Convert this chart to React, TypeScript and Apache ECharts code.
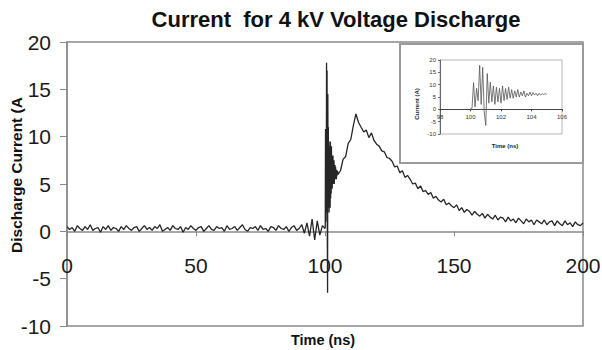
import React, { useEffect, useRef } from "react";
import * as echarts from "echarts";

// ---- data ----
const TITLE = "Current  for 4 kV Voltage Discharge";
const Y_NAME = "Discharge Current (A";
const X_NAME = "Time (ns)";
const INSET_Y_NAME = "Current (A)";
const INSET_X_NAME = "Time (ns)";

// 0..99 ns, 1 ns step
const BASE_START = 0;
const BASE_STEP = 1;
const baselineValues = [
  0.5, 0.2, 0.4, 0.0, 0.6, 0.3, 0.1, 0.5, 0.2, 0.7,
  0.1, 0.3, 0.4, -0.1, 0.5, 0.2, 0.6, 0.1, 0.4, 0.3,
  0.0, 0.5, 0.2, 0.6, 0.3, 0.1, 0.4, 0.5, 0.0, 0.3,
  0.6, 0.2, 0.4, 0.1, 0.5, 0.3, 0.7, 0.0, 0.2, 0.4,
  0.1, 0.6, 0.3, 0.2, 0.5, -0.1, 0.4, 0.2, 0.6, 0.3,
  0.1, 0.4, 0.5, 0.0, 0.3, 0.6, 0.2, 0.1, 0.5, 0.3,
  0.4, 0.0, 0.6, 0.2, 0.3, 0.5, 0.1, 0.4, 0.7, 0.2,
  0.0, 0.4, 0.3, 0.5, 0.1, 0.6, 0.2, 0.3, 0.0, 0.5,
  0.4, 0.1, 0.6, 0.3, 0.2, 0.5, 0.0, 0.4, 0.6, 0.1,
  0.3, 0.7, -0.2, 0.9, -0.5, 1.3, -0.9, 1.1, -0.4, 0.6,
];

// 100..105 ns, 0.1 ns step (the burst, also shown in the inset)
const BURST_START = 100;
const BURST_STEP = 0.1;
const burstValues = [
  0.3, 0.5, 10.8, 1.0, 8.5, 3.5, 17.8, 2.0, 17.0, -1.0,
  -6.5, 14.5, 2.5, 11.0, 3.0, 9.5, 2.0, 9.0, 3.0, 8.5,
  2.5, 9.5, 3.5, 8.5, 4.0, 9.0, 4.5, 8.0, 4.5, 7.5,
  5.0, 8.0, 5.0, 7.0, 5.5, 7.5, 5.0, 6.5, 5.5, 7.0,
  5.5, 6.8, 5.8, 6.5, 5.5, 6.5, 5.8, 6.3, 6.0, 6.4,
  6.0,
];

// 106..200 ns, 1 ns step
const DECAY_START = 106;
const DECAY_STEP = 1;
const decayValues = [
  6.4, 7.6, 7.9, 9.3, 9.7, 11.2, 12.4, 11.5, 11.0, 10.5,
  10.7, 9.9, 10.4, 9.6, 9.2, 9.0, 8.5, 8.4, 7.8, 7.7,
  7.4, 6.8, 6.9, 6.2, 6.4, 5.7, 5.9, 5.5, 5.0, 5.1,
  4.5, 4.8, 4.2, 4.3, 3.9, 4.1, 3.5, 3.7, 3.3, 3.1,
  3.4, 2.8, 3.0, 2.7, 2.5, 2.8, 2.2, 2.5, 2.0, 2.3,
  2.1, 1.7, 2.1, 1.8, 1.6, 1.9, 1.4, 1.8, 1.5, 1.3,
  1.7, 1.2, 1.5, 1.4, 1.0, 1.5, 1.1, 1.3, 0.9, 1.4,
  1.1, 0.8, 1.3, 1.0, 1.2, 0.7, 1.2, 1.0, 0.8, 1.2,
  0.7, 1.0, 1.1, 0.6, 1.1, 0.8, 0.6, 1.1, 0.7, 0.9,
  0.5, 1.0, 0.7, 0.6, 0.9,
];

// axes
const X_MIN = 0, X_MAX = 200, X_STEP = 50;
const Y_MIN = -10, Y_MAX = 20, Y_STEP = 5;
const IX_MIN = 98, IX_MAX = 106, IX_STEP = 2;
const IY_MIN = -10, IY_MAX = 20, IY_STEP = 5;

const FONT = "'Liberation Sans', Arial, sans-serif";

// layout (pixels)
const MAIN = { left: 67, top: 42, width: 516, height: 284 };
const INSET = { left: 440, top: 60, width: 122, height: 74 };

function toPairs(values: number[], start: number, step: number): number[][] {
  return values.map((v, i) => [Math.round((start + i * step) * 100) / 100, v]);
}

export default function App() {
  const ref = useRef<HTMLDivElement>(null);

  useEffect(() => {
    if (!ref.current) return;
    const chart = echarts.init(ref.current, undefined, { renderer: "svg" });

    const mainData = [
      ...toPairs(baselineValues, BASE_START, BASE_STEP),
      ...toPairs(burstValues, BURST_START, BURST_STEP),
      ...toPairs(decayValues, DECAY_START, DECAY_STEP),
    ];
    const insetData = toPairs(burstValues, BURST_START, BURST_STEP);

    // offset that puts the x axis on the zero line
    const mainZeroOffset = -(MAIN.height * (0 - Y_MIN)) / (Y_MAX - Y_MIN);
    const insetZeroOffset = -(INSET.height * (0 - IY_MIN)) / (IY_MAX - IY_MIN);

    const axisGray = "#8a8a8a";
    const textColor = "#1a1a1a";

    chart.setOption({
      animation: false,
      backgroundColor: "#ffffff",
      grid: [
        {
          ...MAIN, outerBoundsMode: "none", containLabel: false,
          show: true, borderColor: axisGray, borderWidth: 1.5,
          backgroundColor: "transparent",
        },
        {
          ...INSET, outerBoundsMode: "none", containLabel: false,
          show: true, borderColor: "#b5b5b5", borderWidth: 1,
          backgroundColor: "transparent", z: 20,
        },
      ],
      xAxis: [
        {
          type: "value", gridIndex: 0, min: X_MIN, max: X_MAX, interval: X_STEP,
          position: "bottom", offset: mainZeroOffset,
          axisLine: { onZero: false, lineStyle: { color: axisGray, width: 1.5 } },
          axisTick: { show: true, length: 5, lineStyle: { color: axisGray } },
          axisLabel: { fontSize: 21, color: textColor, fontFamily: FONT, margin: 24, showMinLabel: true, showMaxLabel: true },
          splitLine: { show: false },
        },
        {
          type: "value", gridIndex: 1, min: IX_MIN, max: IX_MAX, interval: IX_STEP, z: 21,
          position: "bottom", offset: insetZeroOffset,
          axisLine: { onZero: false, lineStyle: { color: "#444", width: 1 } },
          axisTick: { show: true, length: 2, lineStyle: { color: "#444" } },
          axisLabel: { fontSize: 6, color: "#333", fontFamily: FONT, margin: 5 },
          splitLine: { show: false },
        },
      ],
      yAxis: [
        {
          type: "value", gridIndex: 0, min: Y_MIN, max: Y_MAX, interval: Y_STEP,
          axisLine: { show: true, lineStyle: { color: axisGray, width: 1.5 } },
          axisTick: { show: true, length: 7, lineStyle: { color: axisGray } },
          axisLabel: { fontSize: 21, color: textColor, fontFamily: FONT, margin: 16 },
          splitLine: { show: false },
        },
        {
          type: "value", gridIndex: 1, min: IY_MIN, max: IY_MAX, interval: IY_STEP, z: 21,
          axisLine: { show: true, lineStyle: { color: "#666", width: 1 } },
          axisTick: { show: true, length: 2, lineStyle: { color: "#666" } },
          axisLabel: { fontSize: 6, color: "#333", fontFamily: FONT, margin: 4 },
          splitLine: { show: false },
        },
      ],
      series: [
        {
          type: "line", xAxisIndex: 0, yAxisIndex: 0, data: mainData,
          showSymbol: false, symbol: "none", z: 2,
          lineStyle: { color: "#262626", width: 1.3 },
        },
        {
          type: "line", xAxisIndex: 1, yAxisIndex: 1, data: insetData,
          showSymbol: false, symbol: "none", z: 22,
          lineStyle: { color: "#555", width: 0.8 },
        },
      ],
      graphic: [
        {
          type: "text", x: 336, y: 19, z: 30,
          style: {
            text: TITLE, fill: "#111", font: `bold 22px ${FONT}`,
            textAlign: "center", textVerticalAlign: "middle",
          },
        },
        {
          type: "text", x: 16, y: 175, rotation: Math.PI / 2, z: 30,
          style: {
            text: Y_NAME, fill: "#111", font: `bold 15.5px ${FONT}`,
            textAlign: "center", textVerticalAlign: "middle",
          },
        },
        {
          type: "text", x: 323, y: 340, z: 30,
          style: {
            text: X_NAME, fill: "#111", font: `bold 14.5px ${FONT}`,
            textAlign: "center", textVerticalAlign: "middle",
          },
        },
        {
          type: "rect", z: 10,
          shape: { x: 400, y: 44, width: 183, height: 119 },
          style: { fill: "#ffffff", stroke: "#9a9a9a", lineWidth: 2 },
        },
        {
          type: "text", x: 417, y: 104, rotation: Math.PI / 2, z: 30,
          style: {
            text: INSET_Y_NAME, fill: "#222", font: `bold 6px ${FONT}`,
            textAlign: "center", textVerticalAlign: "middle",
          },
        },
        {
          type: "text", x: 505, y: 146, z: 30,
          style: {
            text: INSET_X_NAME, fill: "#222", font: `bold 6px ${FONT}`,
            textAlign: "center", textVerticalAlign: "middle",
          },
        },
      ],
    });

    return () => chart.dispose();
  }, []);

  return (
    <div
      ref={ref}
      style={{ position: "fixed", left: 0, top: 0, width: 602, height: 350, background: "#fff" }}
    />
  );
}
